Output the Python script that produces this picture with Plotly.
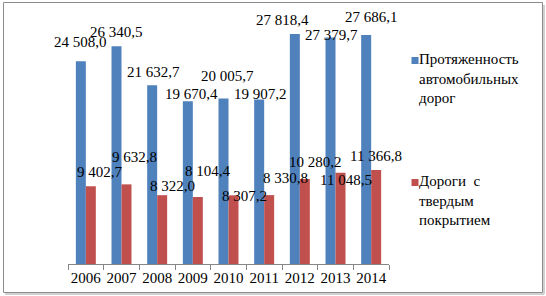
import plotly.graph_objects as go

years = ["2006", "2007", "2008", "2009", "2010", "2011", "2012", "2013", "2014"]
roads_total = [24508.0, 26340.5, 21632.7, 19670.4, 20005.7, 19907.2, 27818.4, 27379.7, 27686.1]
roads_paved = [9402.7, 9632.8, 8322.0, 8104.4, 8307.2, 8330.8, 10280.2, 11048.5, 11366.8]
series_names = ["Протяженность<br>автомобильных<br>дорог", "Дороги  с<br>твердым<br>покрытием"]

# label placement offsets (pixels, relative to category centre / bar top)
total_dx = [-5.5, -5, -4, -1, -1, -4, -17.5, -4, 0]
total_dy = [19, 14, 13, 7, 23, 5, 14, 3, 18]
paved_dx = [14, 13, 15, 15, 16, 21, 16, 10, 4.5]
paved_dy = [14, 27, 9, 26, -1, 17, 17, -7, 14]

W, H = 546, 296
L, R, T, B = 68, 389, 14, 264  # plot area in pixels
BLUE, RED = "#4F81BD", "#C0504D"
FONT = "Times New Roman"


def fmt(v):
    s = f"{v:,.1f}"
    return s.replace(",", " ").replace(".", ",")


def px(xp):
    return (xp - L) / (R - L)


def py(yp):
    return (B - yp) / (B - T)


fig = go.Figure()
fig.add_trace(go.Bar(x=years, y=roads_total, marker_color=BLUE, marker_line_width=0, showlegend=False))
fig.add_trace(go.Bar(x=years, y=roads_paved, marker_color=RED, marker_line_width=0, showlegend=False))

ann = []
for i, y in enumerate(years):
    ann.append(dict(x=i, y=roads_total[i], xref="x", yref="y", text=fmt(roads_total[i]),
                    xshift=total_dx[i], yshift=total_dy[i], showarrow=False,
                    xanchor="center", yanchor="middle", font=dict(family=FONT, size=15, color="#000")))
    ann.append(dict(x=i, y=roads_paved[i], xref="x", yref="y", text=fmt(roads_paved[i]),
                    xshift=paved_dx[i], yshift=paved_dy[i], showarrow=False,
                    xanchor="center", yanchor="middle", font=dict(family=FONT, size=15, color="#000")))

# custom legend
legend_items = [(series_names[0], BLUE, 60.5), (series_names[1], RED, 182.5)]
shapes = []
for name, col, yc in legend_items:
    shapes.append(dict(type="rect", xref="paper", yref="paper", x0=px(411.5), x1=px(418.5),
                       y0=py(yc - 3.5), y1=py(yc + 3.5), fillcolor=col, line_width=0))
    ann.append(dict(x=px(417), y=py(yc - 12), xref="paper", yref="paper", text=name, showarrow=False,
                    xanchor="left", yanchor="top", align="left",
                    font=dict(family=FONT, size=15, color="#000")))

# chart border
shapes.append(dict(type="rect", xref="paper", yref="paper", x0=px(3.5), x1=px(542.5),
                   y0=py(292.5), y1=py(2.5), line=dict(color="#8C8C8C", width=1), fillcolor="rgba(0,0,0,0)"))
shapes.append(dict(type="line", xref="paper", yref="paper", x0=px(544), x1=px(544),
                   y0=py(294), y1=py(5), line=dict(color="#D0D0D0", width=2)))
shapes.append(dict(type="line", xref="paper", yref="paper", x0=px(5), x1=px(544),
                   y0=py(294), y1=py(294), line=dict(color="#D0D0D0", width=2)))

scale = 0.008268
fig.update_layout(
    width=W, height=H,
    margin=dict(l=L, r=W - R, t=T, b=H - B, pad=0, autoexpand=False),
    plot_bgcolor="white", paper_bgcolor="white",
    barmode="group", bargap=0.44, bargroupgap=0,
    showlegend=False,
    font=dict(family=FONT),
    annotations=ann, shapes=shapes,
    xaxis=dict(type="category", range=[-0.5, len(years) - 0.5], showline=True, linecolor="#868686", linewidth=1,
               ticks="outside", tickson="boundaries", ticklen=5, tickcolor="#868686", tickangle=0,
               automargin=False,
               tickfont=dict(family=FONT, size=15, color="#000"), showgrid=False, zeroline=False),
    yaxis=dict(range=[0, (B - T) / scale], visible=False, showgrid=False, zeroline=False, automargin=False),
)

fig.write_html("out.html", config={"displayModeBar": False},
               post_script="document.body.style.margin='0';document.body.style.padding='0';")
